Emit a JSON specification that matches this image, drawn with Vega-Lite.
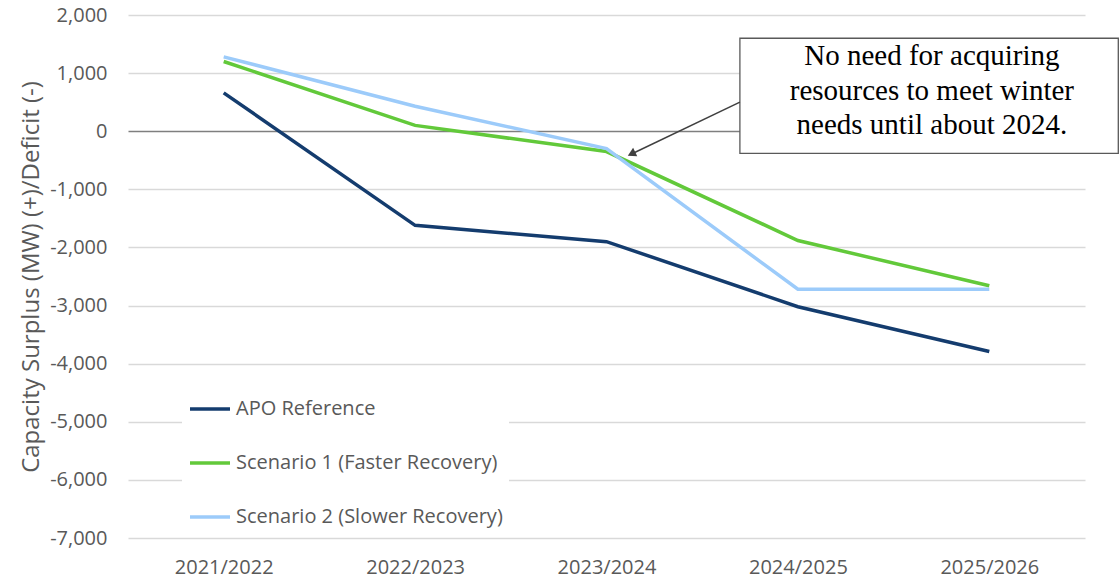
{
  "$schema": "https://vega.github.io/schema/vega-lite/v6.json",
  "width": 957,
  "height": 523,
  "autosize": {"type": "none"},
  "padding": {"left": 128, "top": 15, "right": 34, "bottom": 42},
  "background": "white",
  "config": {"view": {"stroke": null}, "font": "Open Sans"},
  "datasets": {
    "series": [
      {"period": "2021/2022", "series": "APO Reference", "value": 660},
      {"period": "2022/2023", "series": "APO Reference", "value": -1620},
      {"period": "2023/2024", "series": "APO Reference", "value": -1900},
      {"period": "2024/2025", "series": "APO Reference", "value": -3020},
      {"period": "2025/2026", "series": "APO Reference", "value": -3790},
      {"period": "2021/2022", "series": "Scenario 1 (Faster Recovery)", "value": 1200},
      {"period": "2022/2023", "series": "Scenario 1 (Faster Recovery)", "value": 100},
      {"period": "2023/2024", "series": "Scenario 1 (Faster Recovery)", "value": -350},
      {"period": "2024/2025", "series": "Scenario 1 (Faster Recovery)", "value": -1880},
      {"period": "2025/2026", "series": "Scenario 1 (Faster Recovery)", "value": -2660},
      {"period": "2021/2022", "series": "Scenario 2 (Slower Recovery)", "value": 1280},
      {"period": "2022/2023", "series": "Scenario 2 (Slower Recovery)", "value": 430},
      {"period": "2023/2024", "series": "Scenario 2 (Slower Recovery)", "value": -300},
      {"period": "2024/2025", "series": "Scenario 2 (Slower Recovery)", "value": -2720},
      {"period": "2025/2026", "series": "Scenario 2 (Slower Recovery)", "value": -2720}
    ],
    "note": [
      {"label": "No need for acquiring\nresources to meet winter\nneeds until about 2024."}
    ]
  },
  "layer": [
    {
      "data": {"name": "series"},
      "mark": {"type": "line", "strokeWidth": 3.5},
      "encoding": {
        "x": {
          "field": "period",
          "type": "ordinal",
          "scale": {"type": "point", "padding": 0.5},
          "axis": {
            "title": null,
            "labelAngle": 0,
            "domain": false,
            "ticks": false,
            "grid": false,
            "labelFont": "Open Sans",
            "labelFontSize": 20,
            "labelColor": "#595959",
            "labelPadding": 19
          }
        },
        "y": {
          "field": "value",
          "type": "quantitative",
          "scale": {"domain": [-7000, 2000], "nice": false},
          "axis": {
            "title": "Capacity Surplus (MW) (+)/Deficit (-)",
            "values": [-7000, -6000, -5000, -4000, -3000, -2000, -1000, 0, 1000, 2000],
            "labelExpr": "replace(format(datum.value, ',.0f'), '\u2212', '-')",
            "domain": false,
            "ticks": false,
            "labelFont": "Open Sans",
            "labelFontSize": 20,
            "labelColor": "#595959",
            "labelPadding": 21,
            "titleFont": "Open Sans",
            "titleFontSize": 24,
            "titleFontWeight": "normal",
            "titleColor": "#595959",
            "titlePadding": 6,
            "gridColor": {"condition": {"test": "datum.value === 0", "value": "#7f7f7f"}, "value": "#d9d9d9"},
            "gridWidth": 1.5
          }
        },
        "color": {
          "field": "series",
          "type": "nominal",
          "scale": {
            "domain": ["APO Reference", "Scenario 1 (Faster Recovery)", "Scenario 2 (Slower Recovery)"],
            "range": ["#143c6e", "#62c93a", "#9ccbfa"]
          },
          "legend": {
            "title": null,
            "orient": "none",
            "legendX": 54,
            "legendY": 366,
            "direction": "vertical",
            "symbolType": "stroke",
            "symbolSize": 1600,
            "symbolStrokeWidth": 3.5,
            "labelFont": "Open Sans",
            "labelFontSize": 20,
            "labelColor": "#595959",
            "labelOffset": 4,
            "labelLimit": 400,
            "rowPadding": 22,
            "padding": 6,
            "fillColor": "white"
          }
        }
      }
    },
    {
      "data": {"name": "note"},
      "mark": {"type": "rect", "fill": "white", "stroke": "#595959", "strokeWidth": 1.3, "xOffset": -58, "x2Offset": 129},
      "encoding": {
        "x": {"datum": "2024/2025", "type": "ordinal"},
        "x2": {"datum": "2025/2026"},
        "y": {"datum": 1600, "type": "quantitative"},
        "y2": {"datum": -380}
      }
    },
    {
      "data": {"name": "note"},
      "mark": {"type": "text", "font": "Liberation Serif", "fontSize": 29, "lineHeight": 34.5, "lineBreak": "\n", "align": "center", "baseline": "middle", "dx": 134, "color": "#000000"},
      "encoding": {
        "x": {"datum": "2024/2025", "type": "ordinal"},
        "y": {"datum": 1290, "type": "quantitative"},
        "text": {"field": "label", "type": "nominal"}
      }
    },
    {
      "data": {"name": "note"},
      "mark": {"type": "rule", "color": "#404040", "strokeWidth": 1.5, "xOffset": -58, "x2Offset": 24},
      "encoding": {
        "x": {"datum": "2024/2025", "type": "ordinal"},
        "x2": {"datum": "2023/2024"},
        "y": {"datum": 500, "type": "quantitative"},
        "y2": {"datum": -400}
      }
    },
    {
      "data": {"name": "note"},
      "mark": {"type": "point", "shape": "triangle-up", "filled": true, "size": 90, "angle": 244, "color": "#404040", "opacity": 1, "xOffset": 25},
      "encoding": {
        "x": {"datum": "2023/2024", "type": "ordinal"},
        "y": {"datum": -390, "type": "quantitative"}
      }
    }
  ]
}
